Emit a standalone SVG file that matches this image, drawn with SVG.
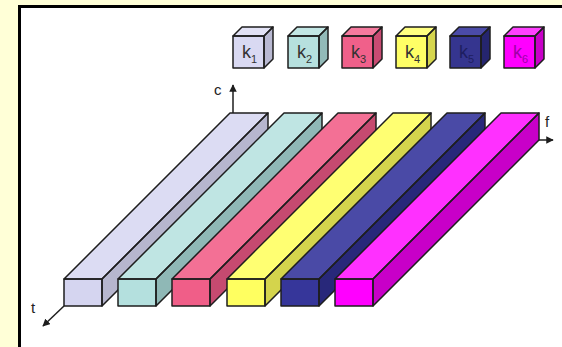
<svg xmlns="http://www.w3.org/2000/svg" width="562" height="347" viewBox="0 0 562 347">
  <style>
    .edge { stroke: #1e1e1e; stroke-width: 1.5; stroke-linejoin: round; }
    .axis { stroke: #1e1e1e; stroke-width: 1.5; fill: none; }
    .lbl { font-family: "Liberation Sans", Arial, sans-serif; font-size: 15px; fill: #222; }
    .k { font-family: "Liberation Sans", Arial, sans-serif; font-size: 18px; }
    .sub { font-size: 11px; }
  </style>
  <defs>
    <marker id="arrow" viewBox="0 0 10 10" refX="9" refY="5" markerWidth="5" markerHeight="5" orient="auto" markerUnits="strokeWidth">
      <path d="M0,0 L10,5 L0,10 Z" fill="#1e1e1e"/>
    </marker>
    <!-- outline of a long bar: front face 38x27, depth offset (166,-166) -->
    <g id="bar">
      <polygon class="edge" points="0,0 38,0 204,-166 166,-166"/>
      <polygon class="edge" points="38,0 38,27 204,-139 204,-166"/>
      <rect class="edge" x="0" y="0" width="38" height="27"/>
    </g>
    <!-- outline of a legend cube: front face 31x32, depth offset (9,-9) -->
    <g id="cube">
      <polygon class="edge" points="0,0 31,0 40,-9 9,-9"/>
      <polygon class="edge" points="31,0 31,32 40,23 40,-9"/>
      <rect class="edge" x="0" y="0" width="31" height="32"/>
    </g>
  </defs>

  <!-- page background and framed panel -->
  <rect x="0" y="0" width="562" height="347" fill="#FFFFD7"/>
  <rect x="19.5" y="6.5" width="600" height="400" fill="#FFFFFF" stroke="#000" stroke-width="3"/>

  <!-- legend -->
  <g id="legend">
    <g id="key-k1" transform="translate(233,36)">
      <polygon points="0,0 31,0 40,-9 9,-9" fill="#E2E2F5"/>
      <polygon points="31,0 31,32 40,23 40,-9" fill="#B9B9D2"/>
      <rect x="0" y="0" width="31" height="32" fill="#D9D9F2"/>
      <use href="#cube" fill="none"/>
      <text class="k" x="9" y="22" fill="#333">k<tspan class="sub" dy="5">1</tspan></text>
    </g>
    <g id="key-k2" transform="translate(288,36)">
      <polygon points="0,0 31,0 40,-9 9,-9" fill="#C2E6E4"/>
      <polygon points="31,0 31,32 40,23 40,-9" fill="#92BAB8"/>
      <rect x="0" y="0" width="31" height="32" fill="#B6E0DE"/>
      <use href="#cube" fill="none"/>
      <text class="k" x="9" y="22" fill="#333">k<tspan class="sub" dy="5">2</tspan></text>
    </g>
    <g id="key-k3" transform="translate(342,36)">
      <polygon points="0,0 31,0 40,-9 9,-9" fill="#F57A9E"/>
      <polygon points="31,0 31,32 40,23 40,-9" fill="#C84B72"/>
      <rect x="0" y="0" width="31" height="32" fill="#F0608A"/>
      <use href="#cube" fill="none"/>
      <text class="k" x="9" y="22" fill="#333">k<tspan class="sub" dy="5">3</tspan></text>
    </g>
    <g id="key-k4" transform="translate(396,36)">
      <polygon points="0,0 31,0 40,-9 9,-9" fill="#FFFF80"/>
      <polygon points="31,0 31,32 40,23 40,-9" fill="#D6D64E"/>
      <rect x="0" y="0" width="31" height="32" fill="#FFFF66"/>
      <use href="#cube" fill="none"/>
      <text class="k" x="9" y="22" fill="#333">k<tspan class="sub" dy="5">4</tspan></text>
    </g>
    <g id="key-k5" transform="translate(450,36)">
      <polygon points="0,0 31,0 40,-9 9,-9" fill="#4B4BA8"/>
      <polygon points="31,0 31,32 40,23 40,-9" fill="#25256F"/>
      <rect x="0" y="0" width="31" height="32" fill="#35358F"/>
      <use href="#cube" fill="none"/>
      <text class="k" x="9" y="22" fill="#1E1E60">k<tspan class="sub" dy="5">5</tspan></text>
    </g>
    <g id="key-k6" transform="translate(504,36)">
      <polygon points="0,0 31,0 40,-9 9,-9" fill="#FF40FF"/>
      <polygon points="31,0 31,32 40,23 40,-9" fill="#C800C8"/>
      <rect x="0" y="0" width="31" height="32" fill="#FF00FF"/>
      <use href="#cube" fill="none"/>
      <text class="k" x="9" y="22" fill="#A000A8">k<tspan class="sub" dy="5">6</tspan></text>
    </g>
  </g>

  <!-- axes -->
  <g id="connectors">
    <line class="axis" x1="233" y1="113" x2="233" y2="85" marker-end="url(#arrow)"/>
    <line class="axis" x1="537" y1="140" x2="553" y2="140" marker-end="url(#arrow)"/>
    <line class="axis" x1="64" y1="306" x2="43" y2="326" marker-end="url(#arrow)"/>
  </g>
  <text class="lbl" x="214" y="95">c</text>
  <text class="lbl" x="545" y="127">f</text>
  <text class="lbl" x="31" y="313">t</text>

  <!-- bars along f, each running back in t -->
  <g id="bar-k1" transform="translate(64,279)">
    <polygon points="0,0 38,0 204,-166 166,-166" fill="#DCDCF3"/>
    <polygon points="38,0 38,27 204,-139 204,-166" fill="#B6B6CE"/>
    <rect x="0" y="0" width="38" height="27" fill="#D5D5F0"/>
    <use href="#bar" fill="none"/>
  </g>
  <g id="bar-k2" transform="translate(118,279)">
    <polygon points="0,0 38,0 204,-166 166,-166" fill="#BFE5E3"/>
    <polygon points="38,0 38,27 204,-139 204,-166" fill="#8FB8B6"/>
    <rect x="0" y="0" width="38" height="27" fill="#B4E0DE"/>
    <use href="#bar" fill="none"/>
  </g>
  <g id="bar-k3" transform="translate(172,279)">
    <polygon points="0,0 38,0 204,-166 166,-166" fill="#F37095"/>
    <polygon points="38,0 38,27 204,-139 204,-166" fill="#C64A70"/>
    <rect x="0" y="0" width="38" height="27" fill="#F05E88"/>
    <use href="#bar" fill="none"/>
  </g>
  <g id="bar-k4" transform="translate(227,279)">
    <polygon points="0,0 38,0 204,-166 166,-166" fill="#FFFF72"/>
    <polygon points="38,0 38,27 204,-139 204,-166" fill="#D4D44C"/>
    <rect x="0" y="0" width="38" height="27" fill="#FFFF60"/>
    <use href="#bar" fill="none"/>
  </g>
  <g id="bar-k5" transform="translate(281,279)">
    <polygon points="0,0 38,0 204,-166 166,-166" fill="#4A4AA6"/>
    <polygon points="38,0 38,27 204,-139 204,-166" fill="#28287A"/>
    <rect x="0" y="0" width="38" height="27" fill="#36369A"/>
    <use href="#bar" fill="none"/>
  </g>
  <g id="bar-k6" transform="translate(335,279)">
    <polygon points="0,0 38,0 204,-166 166,-166" fill="#FF30FF"/>
    <polygon points="38,0 38,27 204,-139 204,-166" fill="#C800C8"/>
    <rect x="0" y="0" width="38" height="27" fill="#FF00FF"/>
    <use href="#bar" fill="none"/>
  </g>
</svg>
